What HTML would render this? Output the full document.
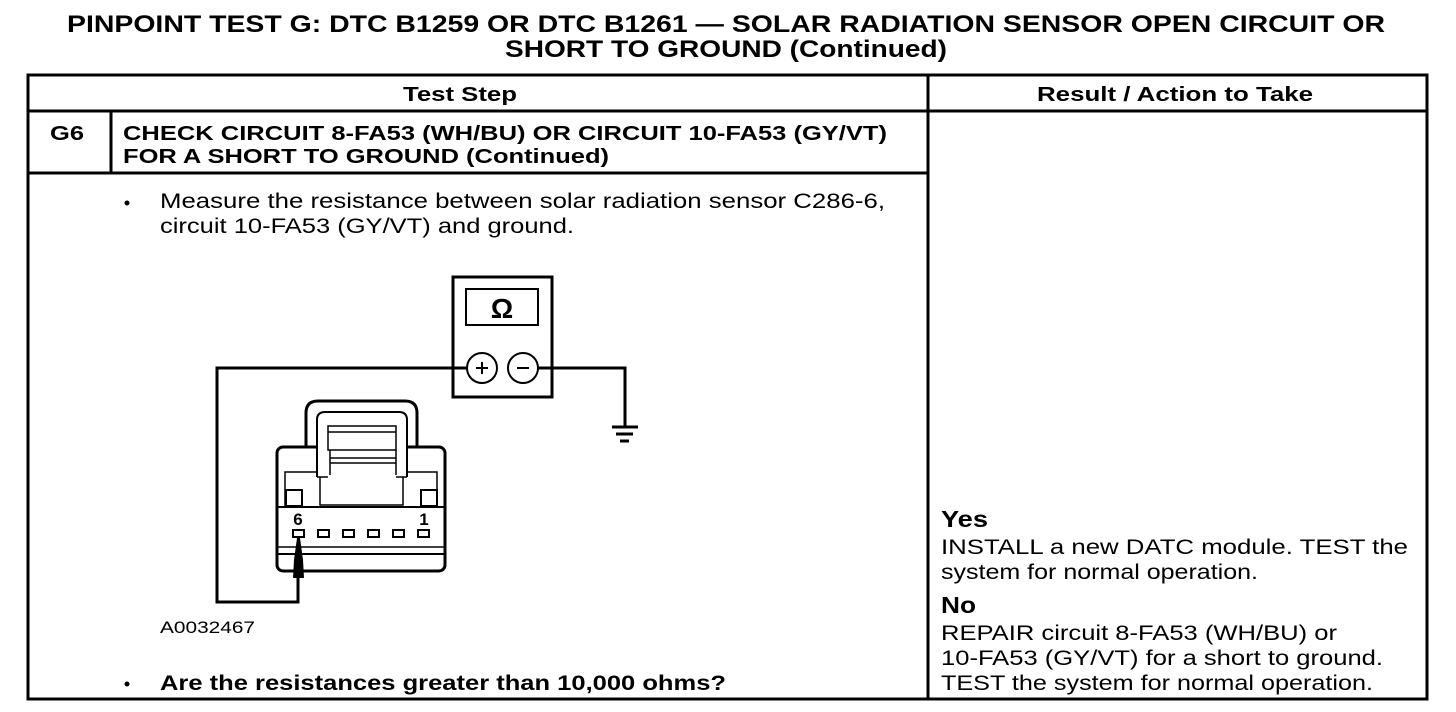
<!DOCTYPE html>
<html><head><meta charset="utf-8"><style>
html,body{margin:0;padding:0;background:#fff;}
svg{display:block;}
text{font-family:"Liberation Sans",Arial,sans-serif;fill:#000;}
.b{font-weight:bold;}
</style></head><body>
<svg width="1456" height="712" viewBox="0 0 1456 712" xmlns="http://www.w3.org/2000/svg">
<text class="b" x="67" y="32" font-size="24" textLength="1318" lengthAdjust="spacingAndGlyphs">PINPOINT TEST G: DTC B1259 OR DTC B1261 — SOLAR RADIATION SENSOR OPEN CIRCUIT OR</text>
<text class="b" x="505" y="57" font-size="24" textLength="442" lengthAdjust="spacingAndGlyphs">SHORT TO GROUND (Continued)</text>
<g stroke="#000" stroke-width="3" fill="none">
<rect x="28" y="75" width="1399" height="624"/>
<line x1="28" y1="111" x2="1427" y2="111"/>
<line x1="928" y1="75" x2="928" y2="699"/>
<line x1="28" y1="173" x2="928" y2="173"/>
<line x1="111" y1="111" x2="111" y2="173"/>
</g>
<text class="b" x="403" y="101" font-size="20" textLength="114" lengthAdjust="spacingAndGlyphs">Test Step</text>
<text class="b" x="1037" y="101" font-size="20" textLength="276" lengthAdjust="spacingAndGlyphs">Result / Action to Take</text>
<text class="b" x="50" y="140" font-size="20" textLength="34" lengthAdjust="spacingAndGlyphs">G6</text>
<text class="b" x="123" y="140" font-size="20" textLength="764" lengthAdjust="spacingAndGlyphs">CHECK CIRCUIT 8-FA53 (WH/BU) OR CIRCUIT 10-FA53 (GY/VT)</text>
<text class="b" x="123" y="163" font-size="20" textLength="486" lengthAdjust="spacingAndGlyphs">FOR A SHORT TO GROUND (Continued)</text>
<circle cx="127" cy="203" r="2.5" fill="#000"/>
<text x="160" y="208" font-size="21" textLength="725" lengthAdjust="spacingAndGlyphs">Measure the resistance between solar radiation sensor C286-6,</text>
<text x="160" y="233" font-size="21" textLength="414" lengthAdjust="spacingAndGlyphs">circuit 10-FA53 (GY/VT) and ground.</text>
<text x="160" y="633" font-size="17" textLength="95" lengthAdjust="spacingAndGlyphs">A0032467</text>
<circle cx="127" cy="684" r="2.5" fill="#000"/>
<text class="b" x="160" y="690" font-size="21" textLength="566" lengthAdjust="spacingAndGlyphs">Are the resistances greater than 10,000 ohms?</text>
<text class="b" x="941" y="527" font-size="23" textLength="47" lengthAdjust="spacingAndGlyphs">Yes</text>
<text x="941" y="554" font-size="21" textLength="467" lengthAdjust="spacingAndGlyphs">INSTALL a new DATC module. TEST the</text>
<text x="941" y="579" font-size="21" textLength="317" lengthAdjust="spacingAndGlyphs">system for normal operation.</text>
<text class="b" x="941" y="613" font-size="23" textLength="35" lengthAdjust="spacingAndGlyphs">No</text>
<text x="941" y="640" font-size="21" textLength="396" lengthAdjust="spacingAndGlyphs">REPAIR circuit 8-FA53 (WH/BU) or</text>
<text x="941" y="665" font-size="21" textLength="442" lengthAdjust="spacingAndGlyphs">10-FA53 (GY/VT) for a short to ground.</text>
<text x="941" y="690" font-size="21" textLength="432" lengthAdjust="spacingAndGlyphs">TEST the system for normal operation.</text>
<g stroke="#000" fill="none">
<rect x="453" y="277" width="99" height="120" stroke-width="3"/>
<rect x="466" y="289" width="72" height="36" stroke-width="2"/>
<circle cx="482" cy="368" r="15" stroke-width="2" fill="#fff"/>
<circle cx="523" cy="368" r="15" stroke-width="2" fill="#fff"/>
<polyline points="467,368 217,368 217,602 298,602 298,575" stroke-width="3"/>
<polyline points="538,368 625,368 625,427" stroke-width="3"/>
<line x1="612" y1="427" x2="638" y2="427" stroke-width="3"/>
<line x1="616" y1="434" x2="633" y2="434" stroke-width="3"/>
<line x1="620" y1="441" x2="629" y2="441" stroke-width="3"/>
</g>
<text class="b" x="502" y="318" font-size="28" text-anchor="middle" font-family="Liberation Serif">Ω</text>
<line x1="476" y1="368" x2="488" y2="368" stroke="#000" stroke-width="2"/>
<line x1="482" y1="362" x2="482" y2="374" stroke="#000" stroke-width="2"/>
<line x1="517" y1="368" x2="529" y2="368" stroke="#000" stroke-width="2"/>
<g stroke="#000" fill="none">
<path d="M306,447 L306,413 Q306,401 318,401 L405,401 Q417,401 417,413 L417,447" stroke-width="3"/>
<rect x="277" y="447" width="168" height="124" rx="6" stroke-width="3"/>
<path d="M317,477 L317,420 Q317,412 325,412 L399,412 Q407,412 407,420 L407,477" stroke-width="2" fill="#fff"/>
<rect x="328" y="426" width="68" height="24" stroke-width="1.5"/>
<line x1="328" y1="432" x2="396" y2="432" stroke-width="1.5"/>
<line x1="330" y1="450" x2="330" y2="475" stroke-width="1.5"/>
<line x1="396" y1="450" x2="396" y2="475" stroke-width="1.5"/>
<line x1="330" y1="458" x2="396" y2="458" stroke-width="1.5"/>
<line x1="330" y1="463" x2="396" y2="463" stroke-width="1.5"/>
<line x1="317" y1="477" x2="328" y2="477" stroke-width="1.5"/>
<line x1="396" y1="477" x2="407" y2="477" stroke-width="1.5"/>
<polyline points="285,507 285,472 317,472" stroke-width="1.5"/>
<polyline points="437,507 437,472 407,472" stroke-width="1.5"/>
<polyline points="320,477 320,505 403,505 403,477" stroke-width="1.5"/>
<line x1="277" y1="507" x2="445" y2="507" stroke-width="2"/>
<rect x="286" y="490" width="16" height="16" stroke-width="2"/>
<rect x="421" y="490" width="16" height="16" stroke-width="2"/>
<line x1="277" y1="547" x2="445" y2="547" stroke-width="1.5"/>
<line x1="277" y1="554" x2="445" y2="554" stroke-width="2"/>
<g stroke-width="2">
<rect x="293" y="530" width="11" height="7"/>
<rect x="318" y="530" width="11" height="7"/>
<rect x="343" y="530" width="11" height="7"/>
<rect x="368" y="530" width="11" height="7"/>
<rect x="393" y="530" width="11" height="7"/>
<rect x="418" y="530" width="11" height="7"/>
</g>
</g>
<text class="b" x="298" y="525" font-size="17" text-anchor="middle">6</text>
<text class="b" x="424" y="525" font-size="17" text-anchor="middle">1</text>
<polygon points="297,538 300,538 303,560 304,578 293,578 294,560" fill="#000"/>
</svg>
</body></html>
